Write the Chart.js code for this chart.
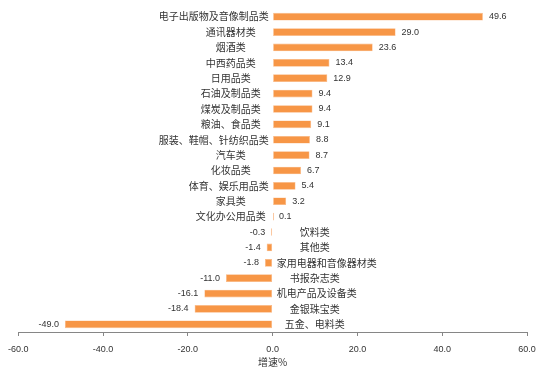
<!DOCTYPE html>
<html>
<head>
<meta charset="utf-8">
<script src="https://cdn.jsdelivr.net/npm/chart.js@4"></script>
<style>
    html, body { margin: 0; padding: 0; background: #fff; }
    #wrap { width: 546px; height: 375px; }
</style>
</head>
<body>
<div id="wrap"><canvas id="growthChart" width="546" height="375"></canvas></div>
<script>
const categories = [
    '电子出版物及音像制品类', '通讯器材类', '烟酒类', '中西药品类', '日用品类',
    '石油及制品类', '煤炭及制品类', '粮油、食品类', '服装、鞋帽、针纺织品类', '汽车类',
    '化妆品类', '体育、娱乐用品类', '家具类', '文化办公用品类', '饮料类',
    '其他类', '家用电器和音像器材类', '书报杂志类', '机电产品及设备类', '金银珠宝类',
    '五金、电料类'
];
const growth = [
    49.6, 29.0, 23.6, 13.4, 12.9,
    9.4, 9.4, 9.1, 8.8, 8.7,
    6.7, 5.4, 3.2, 0.1, -0.3,
    -1.4, -1.8, -11.0, -16.1, -18.4,
    -49.0
];
const xTicks = [-60, -40, -20, 0, 20, 40, 60];

const textColor = '#333333';
const cnFont = "'Noto Sans CJK SC', 'Liberation Sans', sans-serif";

// draws the category names beside the zero line and the values at the bar ends
const barLabels = {
    id: 'barLabels',
    afterDatasetsDraw(chart) {
        const ctx = chart.ctx;
        const xScale = chart.scales.x;
        const yScale = chart.scales.y;
        const x0 = xScale.getPixelForValue(0);
        const boxW = 76;

        ctx.save();
        ctx.fillStyle = textColor;
        ctx.textBaseline = 'middle';

        growth.forEach((v, i) => {
            const y = yScale.getPixelForValue(i);

            // category name
            ctx.font = '10px ' + cnFont;
            const name = categories[i];
            const w = ctx.measureText(name).width;
            if (v >= 0) {
                if (w > boxW) {
                    ctx.textAlign = 'right';
                    ctx.fillText(name, x0 - 4, y);
                } else {
                    ctx.textAlign = 'center';
                    ctx.fillText(name, x0 - 4 - boxW / 2, y);
                }
            } else {
                if (w > boxW) {
                    ctx.textAlign = 'left';
                    ctx.fillText(name, x0 + 4, y);
                } else {
                    ctx.textAlign = 'center';
                    ctx.fillText(name, x0 + 4 + boxW / 2, y);
                }
            }

            // value
            ctx.font = "9px 'Liberation Sans', sans-serif";
            const xe = xScale.getPixelForValue(v);
            if (v >= 0) {
                ctx.textAlign = 'left';
                ctx.fillText(v.toFixed(1), xe + 6, y);
            } else {
                ctx.textAlign = 'right';
                ctx.fillText(v.toFixed(1), xe - 6, y);
            }
        });
        ctx.restore();
    }
};

const ctx = document.getElementById('growthChart').getContext('2d');
const chart = new Chart(ctx, {
    type: 'bar',
    data: {
        labels: categories,
        datasets: [{
            data: growth,
            backgroundColor: '#F79646',
            borderColor: '#FAB884',
            borderWidth: 0.6,
            borderSkipped: false,
            minBarLength: 1.5,
            barPercentage: 0.5,
            categoryPercentage: 1
        }]
    },
    options: {
        indexAxis: 'y',
        responsive: false,
        animation: false,
        events: [],
        layout: {
            padding: { left: 17, right: 19, top: 9, bottom: 7 }
        },
        plugins: {
            legend: { display: false },
            tooltip: { enabled: false }
        },
        scales: {
            x: {
                min: -60,
                max: 60,
                afterBuildTicks: (scale) => {
                    scale.ticks = xTicks.map(v => ({ value: v }));
                },
                afterFit: (scale) => {
                    scale.height = 36;
                },
                border: { display: true, color: '#868686', width: 1 },
                grid: {
                    drawOnChartArea: false,
                    drawTicks: true,
                    tickLength: 4,
                    color: '#868686'
                },
                ticks: {
                    color: textColor,
                    padding: 8,
                    font: { family: "'Liberation Sans', sans-serif", size: 9 },
                    callback: (v) => Number(v).toFixed(1)
                },
                title: {
                    display: true,
                    text: '增速%',
                    color: textColor,
                    padding: { top: 0, bottom: 0 },
                    font: { family: cnFont, size: 10 }
                }
            },
            y: {
                display: false
            }
        }
    },
    plugins: [barLabels]
});
</script>
</body>
</html>
